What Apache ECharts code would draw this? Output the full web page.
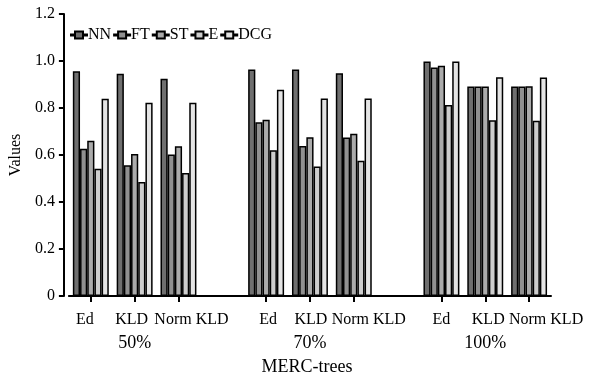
<!DOCTYPE html>
<html>
<head>
<meta charset="utf-8">
<script src="https://cdn.jsdelivr.net/npm/echarts@6/dist/echarts.min.js"></script>
<style>
html,body{margin:0;padding:0;background:#fff;}
#c{width:596px;height:381px;}
</style>
</head>
<body>
<div id="c"></div>
<script>
// categories (empty slots separate the three MERC-tree sizes)
var categories = ['Ed', 'KLD', 'Norm KLD', '', 'Ed', 'KLD', 'Norm KLD', '', 'Ed', 'KLD', 'Norm KLD'];
var groupLabels = ['', '50%', '', '', '', '70%', '', '', '', '100%', ''];
var seriesNames = ['NN', 'FT', 'ST', 'E', 'DCG'];
var yTicks = [0, 0.2, 0.4, 0.6, 0.8, 1.0, 1.2];

var NN  = [0.956, 0.946, 0.925, null, 0.964, 0.964, 0.948, null, 0.998, 0.892, 0.892];
var FT  = [0.627, 0.556, 0.602, null, 0.739, 0.638, 0.675, null, 0.972, 0.892, 0.892];
var ST  = [0.661, 0.604, 0.637, null, 0.750, 0.676, 0.690, null, 0.980, 0.892, 0.893];
var E   = [0.542, 0.485, 0.523, null, 0.620, 0.551, 0.576, null, 0.813, 0.748, 0.746];
var DCG = [0.839, 0.822, 0.822, null, 0.878, 0.840, 0.840, null, 0.998, 0.931, 0.930];

var seriesData = [NN, FT, ST, E, DCG];

// styling
var colors = ['#6f6f6f', '#909090', '#ababab', '#cdcdcd', '#e4e4e4'];
var labelShift = [-6, -3, 13, 0, 2, 1, 15, 0, 0, 3, 17]; // px horizontal nudge per category label
var font = 'Liberation Serif';
var icon = 'path://M0 4 L4 4 L4 1 L12 1 L12 4 L16 4 L16 5 L12 5 L12 8 L4 8 L4 5 L0 5 Z';

var catData = categories.map(function (c, i) {
  var s = labelShift[i];
  var pad = s >= 0 ? [0, 0, 0, 2 * s] : [0, -2 * s, 0, 0];
  return {value: c, textStyle: {padding: pad}};
});

var chart = echarts.init(document.getElementById('c'), null, {renderer: 'canvas'});
chart.setOption({
  animation: false,
  backgroundColor: '#fff',
  textStyle: {fontFamily: font, color: '#000'},
  grid: {left: 68, right: 45, top: 14, bottom: 79, containLabel: false},
  legend: {
    data: seriesNames,
    left: 70,
    top: 27,
    padding: 0,
    icon: icon,
    itemWidth: 16,
    itemHeight: 9,
    itemGap: 2,
    textStyle: {fontFamily: font, fontSize: 16, color: '#000', padding: [0, 0, 0, -4]}
  },
  xAxis: [{
    type: 'category',
    data: catData,
    position: 'bottom',
    axisLine: {lineStyle: {color: '#000', width: 2}},
    axisTick: {show: true, alignWithLabel: true, length: 6, lineStyle: {color: '#000', width: 2},
               interval: function (i, v) { return v !== ''; }},
    axisLabel: {interval: 0, margin: 16, fontFamily: font, fontSize: 16, color: '#000'},
    name: 'MERC-trees',
    nameLocation: 'middle',
    nameGap: 62,
    nameTextStyle: {fontFamily: font, fontSize: 18, color: '#000', padding: [0, 6, 0, 0]}
  }, {
    type: 'category',
    data: groupLabels,
    position: 'bottom',
    axisLine: {show: false},
    axisTick: {show: false},
    axisLabel: {interval: 0, margin: 38, fontFamily: font, fontSize: 18, color: '#000'}
  }],
  yAxis: {
    type: 'value',
    min: yTicks[0],
    max: yTicks[yTicks.length - 1],
    interval: 0.2,
    offset: 5,
    splitLine: {show: false},
    axisLine: {show: true, lineStyle: {color: '#000', width: 2}},
    axisTick: {show: true, length: 5, lineStyle: {color: '#000', width: 2}},
    axisLabel: {
      margin: 9, fontFamily: font, fontSize: 16, color: '#000',
      formatter: function (v) { return v === 0 ? '0' : v.toFixed(1); }
    },
    name: 'Values',
    nameLocation: 'middle',
    nameGap: 35,
    nameTextStyle: {fontFamily: font, fontSize: 16, color: '#000'}
  },
  series: seriesNames.map(function (n, i) {
    return {
      name: n,
      type: 'bar',
      xAxisIndex: 0,
      data: seriesData[i],
      barGap: '0%',
      barCategoryGap: '18%',
      itemStyle: {color: colors[i], borderColor: '#000', borderWidth: 1.5}
    };
  })
});
</script>
</body>
</html>
